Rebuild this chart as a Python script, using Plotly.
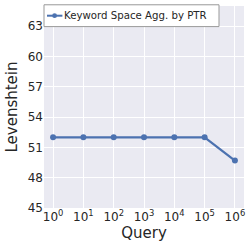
import plotly.graph_objects as go

x_exp = [0, 1, 2, 3, 4, 5, 6]
x_labels = ["10<sup>%d</sup>" % e for e in x_exp]
levenshtein = [52.0, 52.0, 52.0, 52.0, 52.0, 52.0, 49.7]
y_ticks = [45, 48, 51, 54, 57, 60, 63]
series_name = "Keyword Space Agg. by PTR"

color = "#4c72b0"

fig = go.Figure()
fig.add_trace(go.Scatter(
    x=x_exp, y=levenshtein, mode="lines+markers", name=series_name,
    line=dict(color=color, width=2.2),
    marker=dict(color=color, size=6),
    showlegend=False,
))

# legend box drawn manually (matplotlib-style compact legend)
fig.add_shape(type="rect", xref="paper", yref="paper", x0=0.0, x1=0.875, y0=0.898, y1=1.006,
              fillcolor="white", line=dict(color="#999999", width=1), layer="above")
fig.add_shape(type="line", xref="paper", yref="paper", x0=0.015, x1=0.092, y0=0.952, y1=0.952,
              line=dict(color=color, width=2.0), layer="above")
fig.add_shape(type="circle", xref="paper", yref="paper", x0=0.053 - 0.012, x1=0.053 + 0.012,
              y0=0.952 - 0.012, y1=0.952 + 0.012, fillcolor=color, line=dict(width=0), layer="above")
fig.add_annotation(xref="paper", yref="paper", x=0.091, y=0.953, xanchor="left", yanchor="middle",
                   text=series_name, showarrow=False, font=dict(size=10.2, color="#262626"))

fig.update_layout(
    width=251, height=250,
    margin=dict(l=44, r=7, t=6, b=42),
    paper_bgcolor="white",
    plot_bgcolor="#eaeaf2",
    font=dict(family="DejaVu Sans", color="#262626", size=12),
    showlegend=False,
    hovermode=False,
    xaxis=dict(range=[-0.3, 6.3], tickmode="array", tickvals=x_exp, ticktext=x_labels,
               showgrid=True, gridcolor="white", gridwidth=1, zeroline=False,
               showline=False, ticks="", tickfont=dict(size=12),
               title=dict(text="Query", font=dict(size=15), standoff=4)),
    yaxis=dict(range=[45, 65], tickmode="array", tickvals=y_ticks,
               showgrid=True, gridcolor="white", gridwidth=1, zeroline=False,
               showline=False, ticks="", tickfont=dict(size=12),
               title=dict(text="Levenshtein", font=dict(size=15), standoff=6)),
)

fig.write_html("out.html", config={"displayModeBar": False},
               post_script="document.body.style.margin='0px';")
